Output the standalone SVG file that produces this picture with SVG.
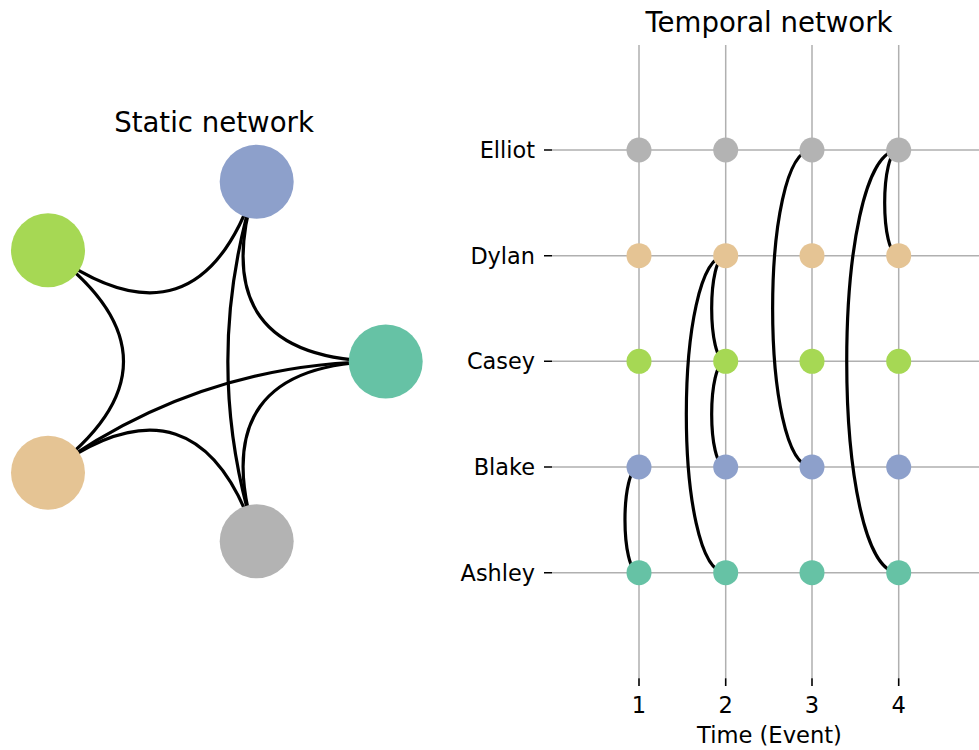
<svg xmlns="http://www.w3.org/2000/svg" width="979" height="750" viewBox="0 0 979 750">
<style>
text{font-family:"DejaVu Sans","Liberation Sans",sans-serif;fill:#000}
.title{font-size:27.6px;text-anchor:middle}
.ylab{font-size:22.4px;text-anchor:end}
.xlab{font-size:22.6px;text-anchor:middle}
.grid{stroke:#b0b0b0;stroke-width:1.5;fill:none}
.tick{stroke:#000;stroke-width:1.6;fill:none}
.edge{stroke:#000;stroke-width:3.2;fill:none}
.a{fill:#66c2a5}.b{fill:#8da0cb}.c{fill:#a6d854}.d{fill:#e5c494}.e{fill:#b3b3b3}
</style>
<rect width="979" height="750" fill="#fff"/>
<text class="title" x="214" y="131.5">Static network</text>
<text class="title" x="769" y="31.5">Temporal network</text>

<g id="static-connectors">
<path class="edge" d="M48,250.3 Q199,361.5 256.7,181.7"/>
<path class="edge" d="M48,250.3 Q199,361.5 48,472.7"/>
<path class="edge" d="M256.7,181.7 Q199,361.5 385.7,361.5"/>
<path class="edge" d="M256.7,181.7 Q199,361.5 256.7,541.3"/>
<path class="edge" d="M48,472.7 Q199,361.5 385.7,361.5"/>
<path class="edge" d="M48,472.7 Q199,361.5 256.7,541.3"/>
<path class="edge" d="M256.7,541.3 Q199,361.5 385.7,361.5"/>
</g>
<g id="static-ashley"><circle class="a" cx="385.7" cy="361.5" r="37"/></g>
<g id="static-blake"><circle class="b" cx="256.7" cy="181.7" r="37"/></g>
<g id="static-casey"><circle class="c" cx="48" cy="250.3" r="37"/></g>
<g id="static-dylan"><circle class="d" cx="48" cy="472.7" r="37"/></g>
<g id="static-elliot"><circle class="e" cx="256.7" cy="541.3" r="37"/></g>

<g id="temporal-axes">
<path class="grid" d="M639,45V678.3M725.7,45V678.3M812,45V678.3M898.7,45V678.3"/>
<path class="grid" d="M552,150H979M552,255.7H979M552,361.3H979M552,467H979M552,572.7H979"/>
<path class="tick" d="M544,150H552M544,255.7H552M544,361.3H552M544,467H552M544,572.7H552"/>
<path class="tick" d="M639,678.3V686M725.7,678.3V686M812,678.3V686M898.7,678.3V686"/>
<text class="ylab" x="535" y="158">Elliot</text>
<text class="ylab" x="535" y="263.7">Dylan</text>
<text class="ylab" x="535" y="369.3">Casey</text>
<text class="ylab" x="535" y="475">Blake</text>
<text class="ylab" x="535" y="580.7">Ashley</text>
<text class="xlab" x="639" y="712.5">1</text>
<text class="xlab" x="725.7" y="712.5">2</text>
<text class="xlab" x="812" y="712.5">3</text>
<text class="xlab" x="898.7" y="712.5">4</text>
<text class="xlab" x="769.5" y="743">Time (Event)</text>
</g>

<g id="temporal-connectors">
<path class="edge" d="M639,467 C620.3,467 620.3,572.7 639,572.7"/>
<path class="edge" d="M725.7,255.7 C707,255.7 707,361.3 725.7,361.3"/>
<path class="edge" d="M725.7,361.3 C707,361.3 707,467 725.7,467"/>
<path class="edge" d="M725.7,255.7 C673.2,255.7 673.2,572.7 725.7,572.7"/>
<path class="edge" d="M812,150 C759.5,150 759.5,467 812,467"/>
<path class="edge" d="M898.7,150 C880,150 880,255.7 898.7,255.7"/>
<path class="edge" d="M898.7,150 C829.4,150 829.4,572.7 898.7,572.7"/>
</g>

<g id="t1-elliot"><circle class="e" cx="639" cy="150" r="12.5"/></g>
<g id="t1-dylan"><circle class="d" cx="639" cy="255.7" r="12.5"/></g>
<g id="t1-casey"><circle class="c" cx="639" cy="361.3" r="12.5"/></g>
<g id="t1-blake"><circle class="b" cx="639" cy="467" r="12.5"/></g>
<g id="t1-ashley"><circle class="a" cx="639" cy="572.7" r="12.5"/></g>
<g id="t2-elliot"><circle class="e" cx="725.7" cy="150" r="12.5"/></g>
<g id="t2-dylan"><circle class="d" cx="725.7" cy="255.7" r="12.5"/></g>
<g id="t2-casey"><circle class="c" cx="725.7" cy="361.3" r="12.5"/></g>
<g id="t2-blake"><circle class="b" cx="725.7" cy="467" r="12.5"/></g>
<g id="t2-ashley"><circle class="a" cx="725.7" cy="572.7" r="12.5"/></g>
<g id="t3-elliot"><circle class="e" cx="812" cy="150" r="12.5"/></g>
<g id="t3-dylan"><circle class="d" cx="812" cy="255.7" r="12.5"/></g>
<g id="t3-casey"><circle class="c" cx="812" cy="361.3" r="12.5"/></g>
<g id="t3-blake"><circle class="b" cx="812" cy="467" r="12.5"/></g>
<g id="t3-ashley"><circle class="a" cx="812" cy="572.7" r="12.5"/></g>
<g id="t4-elliot"><circle class="e" cx="898.7" cy="150" r="12.5"/></g>
<g id="t4-dylan"><circle class="d" cx="898.7" cy="255.7" r="12.5"/></g>
<g id="t4-casey"><circle class="c" cx="898.7" cy="361.3" r="12.5"/></g>
<g id="t4-blake"><circle class="b" cx="898.7" cy="467" r="12.5"/></g>
<g id="t4-ashley"><circle class="a" cx="898.7" cy="572.7" r="12.5"/></g>
</svg>
